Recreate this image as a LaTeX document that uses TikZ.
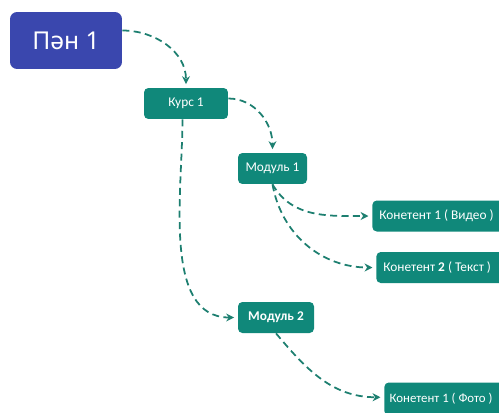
\documentclass[tikz,border=0pt]{standalone}
\usepackage{fontspec}
\setmainfont{Carlito}
\newfontfamily\titlefont{Noto Sans}
\usetikzlibrary{arrows.meta}

\definecolor{planblue}{HTML}{3A47AE}
\definecolor{boxteal}{HTML}{10887A}
\definecolor{lineteal}{HTML}{1D7F70}

\tikzset{
  planbox/.style={fill=planblue, text=white, rounded corners=4pt, minimum width=2.24cm,
    minimum height=1.14cm, font=\titlefont\fontsize{14}{17}\selectfont},
  tealbox/.style={fill=boxteal, text=white, rounded corners=2.5pt, minimum height=0.62cm,
    inner xsep=4pt, font=\fontsize{7.6}{9}\selectfont},
  leafbox/.style={tealbox, anchor=west, inner xsep=4pt, text width=2.7cm, align=flush left},
  link/.style={draw=lineteal, line width=1pt, dash pattern=on 4pt off 2.5pt, -{Stealth[length=4.5pt,width=4.5pt]}}
}

\begin{document}
\begin{tikzpicture}[x=0.02cm, y=-0.02cm]
\useasboundingbox (0, 0) rectangle (499, 412);
\node [planbox] (plan) at (66, 40.5) {Пән 1};
\node [tealbox, minimum width=1.68cm] (kurs) at (186, 103.5) {Курс 1};
\node [tealbox, minimum width=1.38cm] (modA) at (272.5, 168.5) {Модуль 1};
\node [leafbox] (vid) at (372, 216) {Конетент 1 ( Видео )};
\node [leafbox] (txt) at (376, 267.5) {Конетент \textbf{2} ( Текст )};
\node [tealbox, minimum width=1.52cm] (modB) at (276, 317.5) {\textbf{Модуль 2}};
\node [leafbox, inner xsep=3pt, minimum height=0.66cm, font=\fontsize{7.3}{9}\selectfont] (foto) at (384, 399) {Конетент 1 ( Фото )};
% links
\draw [link] ([yshift=0.2cm]plan.east) to [out=0, in=90] ([yshift=2pt]kurs.north);
\draw [link] ([yshift=0.1cm]kurs.east) to [out=0, in=90] ([yshift=2pt]modA.north);
\draw [link] ([xshift=-2pt]kurs.south) to [out=-90, in=180, looseness=0.9] ([xshift=-2pt]modB.west);
\draw [link] (modA.south) to [out=-60, in=180] ([xshift=-2pt]vid.west);
\draw [link] (modA.south) to [out=-80, in=180] ([xshift=-2pt]txt.west);
\draw [link] (modB.south) to [out=-50, in=180] ([xshift=-2pt, yshift=1pt]foto.west);
\end{tikzpicture}
\end{document}
